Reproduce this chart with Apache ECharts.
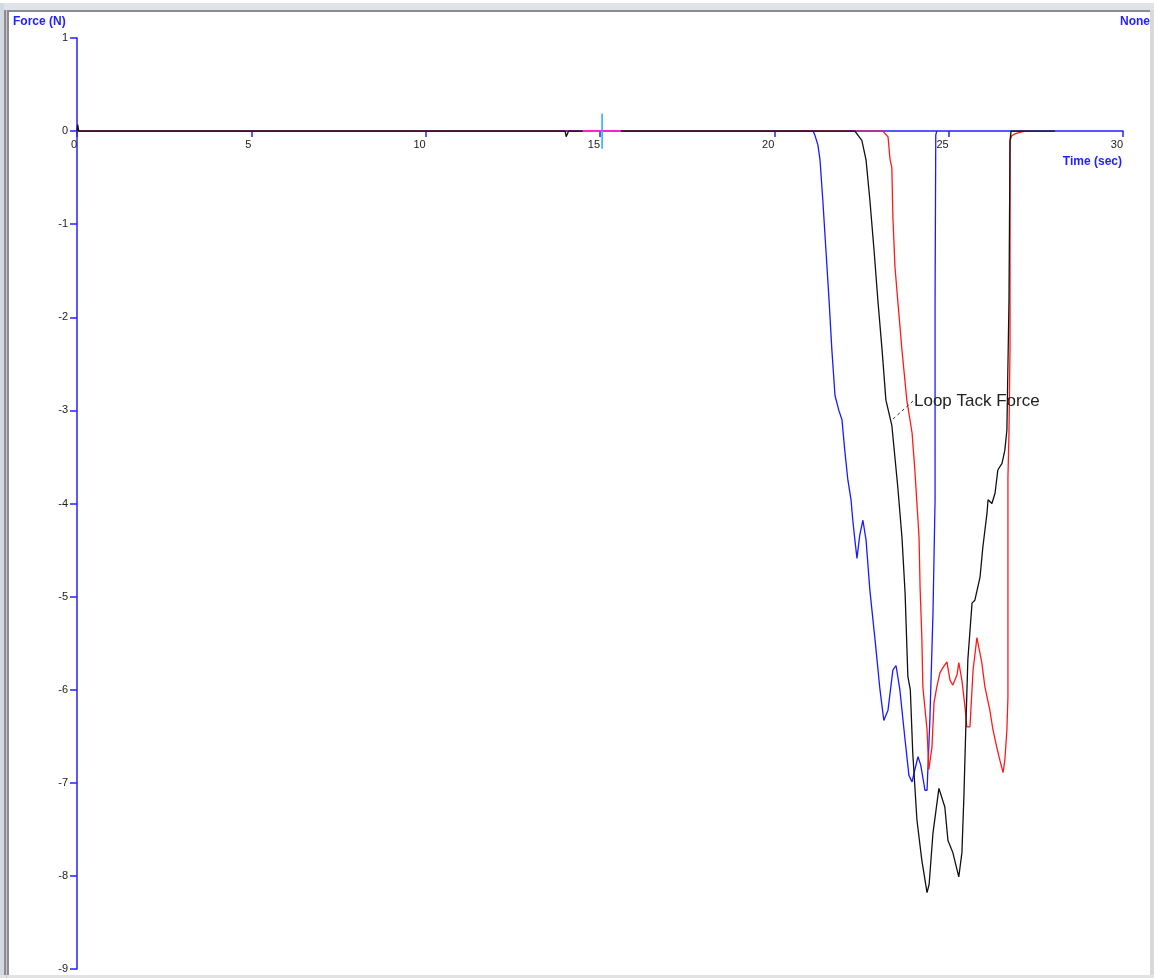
<!DOCTYPE html>
<html>
<head>
<meta charset="utf-8">
<script src="https://cdn.jsdelivr.net/npm/echarts@6/dist/echarts.min.js"></script>
<style>
html,body{margin:0;padding:0;background:#fff;}
#chart{width:1154px;height:978px;}
</style>
</head>
<body>
<div id="chart"></div>
<script>
// ---- data (time in seconds, force in N) ----
const xTicks = [0, 5, 10, 15, 20, 25, 30];
const yTicks = [1, 0, -1, -2, -3, -4, -5, -6, -7, -8, -9];

const blueTime  = [0, 20.96, 21.11, 21.16, 21.25, 21.31, 21.39, 21.48, 21.57, 21.65, 21.74, 21.85, 21.94, 22.02, 22.11, 22.20, 22.25, 22.31, 22.37, 22.45, 22.54, 22.63, 22.74, 22.89, 23.03, 23.14, 23.26, 23.40, 23.49, 23.60, 23.75, 23.86, 23.95, 24.03, 24.12, 24.20, 24.32, 24.38, 24.46, 24.55, 24.61, 24.61, 24.63, 24.66];
const blueForce = [0, 0, 0, -0.04, -0.15, -0.31, -0.74, -1.28, -1.82, -2.35, -2.84, -3.00, -3.10, -3.43, -3.75, -3.96, -4.18, -4.39, -4.59, -4.34, -4.18, -4.39, -4.93, -5.47, -6.00, -6.33, -6.22, -5.79, -5.74, -6.00, -6.54, -6.92, -6.99, -6.86, -6.72, -6.81, -7.08, -7.08, -6.33, -5.18, -3.96, -1.82, -0.04, 0];

const redTime  = [0, 23.11, 23.26, 23.32, 23.37, 23.40, 23.46, 23.54, 23.66, 23.80, 23.95, 24.03, 24.09, 24.15, 24.18, 24.23, 24.26, 24.32, 24.38, 24.43, 24.52, 24.58, 24.66, 24.75, 24.84, 24.95, 25.04, 25.12, 25.24, 25.29, 25.38, 25.47, 25.52, 25.61, 25.70, 25.81, 25.95, 26.04, 26.18, 26.27, 26.38, 26.47, 26.56, 26.61, 26.67, 26.70, 26.70, 26.73, 26.76, 26.76, 26.81, 26.90, 27.04, 27.19];
const redForce = [0, 0, -0.06, -0.31, -0.39, -0.92, -1.46, -1.82, -2.35, -2.89, -3.24, -3.64, -4.00, -4.36, -4.90, -5.43, -5.97, -6.20, -6.43, -6.86, -6.62, -6.14, -5.97, -5.82, -5.76, -5.70, -5.90, -5.95, -5.84, -5.71, -5.90, -6.19, -6.40, -6.40, -5.79, -5.44, -5.71, -5.97, -6.22, -6.43, -6.62, -6.76, -6.89, -6.76, -6.43, -6.08, -3.72, -3.24, -2.32, -0.10, -0.05, -0.03, -0.015, 0];

const blackTime  = [0, 0.02, 0.05, 14.00, 14.03, 14.08, 14.10, 22.31, 22.51, 22.63, 22.74, 22.86, 22.97, 23.09, 23.20, 23.37, 23.54, 23.66, 23.75, 23.83, 23.90, 23.97, 24.09, 24.23, 24.38, 24.44, 24.55, 24.72, 24.89, 24.98, 25.12, 25.29, 25.38, 25.44, 25.49, 25.55, 25.67, 25.75, 25.90, 25.98, 26.10, 26.13, 26.24, 26.33, 26.41, 26.53, 26.61, 26.67, 26.73, 26.76, 26.79, 28.05];
const blackForce = [0, 0.07, 0, 0, -0.06, -0.06, 0, 0, -0.10, -0.31, -0.74, -1.28, -1.82, -2.35, -2.89, -3.16, -3.82, -4.36, -4.96, -5.86, -6.00, -6.68, -7.40, -7.83, -8.18, -8.09, -7.54, -7.06, -7.26, -7.62, -7.75, -8.01, -7.75, -7.11, -6.43, -5.68, -5.07, -5.04, -4.79, -4.47, -4.10, -3.96, -4.00, -3.89, -3.64, -3.57, -3.43, -3.21, -1.82, -0.10, 0, 0];

// cursor marks near t = 15 s
const cursorHTime  = [14.5, 15.6];
const cursorHForce = [0, 0];
const cursorVTime  = [15.06, 15.06];
const cursorVForce = [0.19, -0.19];

const zip = (a, b) => a.map((t, i) => [t, b[i]]);

const chart = echarts.init(document.getElementById('chart'), null, {renderer: 'canvas'});
const axisBlue = '#2222ff';
const labelFont = {color: '#222', fontSize: 11, fontFamily: 'Liberation Sans, Arial, sans-serif'};

const option = {
  animation: false,
  backgroundColor: '#ffffff',
  grid: {left: 77, right: 31, top: 38, bottom: 9, containLabel: false},
  xAxis: {
    type: 'value', min: xTicks[0], max: xTicks[xTicks.length - 1], interval: 5,
    position: 'bottom', offset: -838,
    axisLine: {show: true, onZero: false, lineStyle: {color: axisBlue, width: 1.5}},
    axisTick: {show: true, length: 6, lineStyle: {color: axisBlue, width: 1.5}},
    axisLabel: Object.assign({margin: 8, align: 'right',
      formatter: v => xTicks.includes(v) ? String(v) : ''}, labelFont),
    splitLine: {show: false}
  },
  yAxis: {
    type: 'value', min: yTicks[yTicks.length - 1], max: yTicks[0], interval: 1,
    axisLine: {show: true, onZero: false, lineStyle: {color: axisBlue, width: 1.5}},
    axisTick: {show: true, length: 7, lineStyle: {color: axisBlue, width: 1.5}},
    axisLabel: Object.assign({margin: 9,
      formatter: v => yTicks.includes(v) ? String(v) : ''}, labelFont),
    splitLine: {show: false}
  },
  series: [
    {type: 'line', name: 'blue', data: zip(blueTime, blueForce), showSymbol: false, symbol: 'none',
     lineStyle: {color: '#1a1aff', width: 1.3}, z: 2},
    {type: 'line', name: 'red', data: zip(redTime, redForce), showSymbol: false, symbol: 'none',
     lineStyle: {color: '#ff1a1a', width: 1.3}, z: 3},
    {type: 'line', name: 'black', data: zip(blackTime, blackForce), showSymbol: false, symbol: 'none',
     lineStyle: {color: '#111111', width: 1.3}, z: 4},
    {type: 'line', name: 'cursorH', data: zip(cursorHTime, cursorHForce), showSymbol: false, symbol: 'none',
     lineStyle: {color: '#ff22cc', width: 2}, z: 5},
    {type: 'line', name: 'cursorV', data: zip(cursorVTime, cursorVForce), showSymbol: false, symbol: 'none',
     lineStyle: {color: '#22aaff', width: 1.5}, z: 6}
  ],
  graphic: [
    {type: 'rect', shape: {x: 0, y: 3, width: 1154, height: 7}, style: {fill: '#dfe3ea'}, silent: true, z: 100},
    {type: 'rect', shape: {x: 6, y: 10, width: 1148, height: 2}, style: {fill: '#8c8c8c'}, silent: true, z: 100},
    {type: 'rect', shape: {x: 0, y: 3, width: 4, height: 975}, style: {fill: '#d3d9e2'}, silent: true, z: 100},
    {type: 'rect', shape: {x: 4, y: 10, width: 5, height: 968}, style: {fill: '#8c8c8c'}, silent: true, z: 100},
    {type: 'rect', shape: {x: 6, y: 10, width: 1, height: 968}, style: {fill: '#c8c8c8'}, silent: true, z: 101},
    {type: 'rect', shape: {x: 1150, y: 10, width: 4, height: 968}, style: {fill: '#d9d9d9'}, silent: true, z: 100},
    {type: 'rect', shape: {x: 0, y: 975, width: 1154, height: 3}, style: {fill: '#e2e2e2'}, silent: true, z: 100},
    {type: 'text', x: 13, y: 22, style: {text: 'Force (N)', fill: axisBlue, font: 'bold 12px Liberation Sans, Arial, sans-serif', textVerticalAlign: 'middle'}, z: 100},
    {type: 'text', x: 1150, y: 22, style: {text: 'None', fill: axisBlue, font: 'bold 12px Liberation Sans, Arial, sans-serif', textAlign: 'right', textVerticalAlign: 'middle'}, z: 100},
    {type: 'text', x: 1122, y: 162, style: {text: 'Time (sec)', fill: axisBlue, font: 'bold 12px Liberation Sans, Arial, sans-serif', textAlign: 'right', textVerticalAlign: 'middle'}, z: 100},
    {type: 'line', shape: {x1: 893, y1: 419, x2: 913, y2: 401}, style: {stroke: '#333', lineWidth: 1, lineDash: [3, 3]}, z: 100},
    {type: 'text', x: 914, y: 401, style: {text: 'Loop Tack Force', fill: '#222', font: '17px Liberation Sans, Arial, sans-serif', textVerticalAlign: 'middle'}, z: 100}
  ]
};
chart.setOption(option);
</script>
</body>
</html>
